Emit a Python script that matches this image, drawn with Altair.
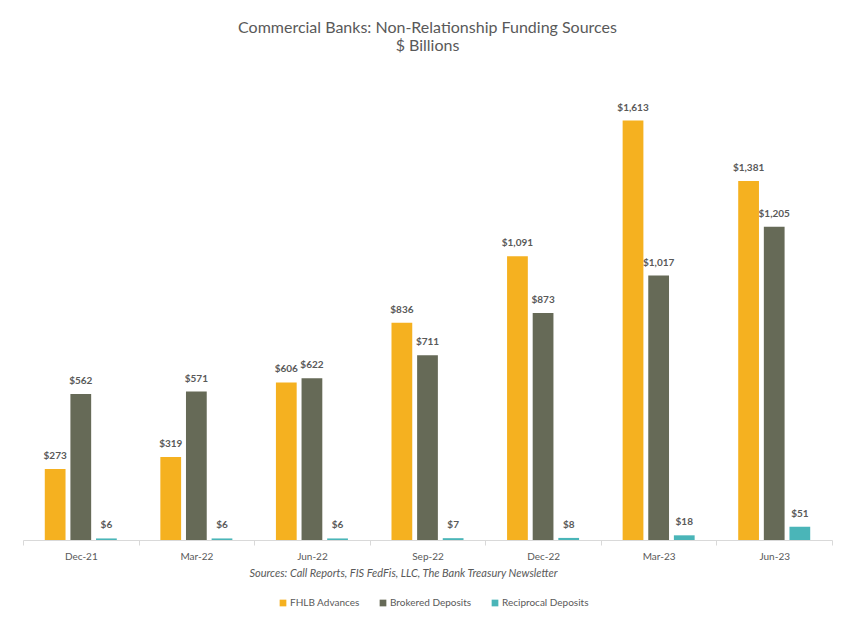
import altair as alt
import pandas as pd

periods = ["Dec-21", "Mar-22", "Jun-22", "Sep-22", "Dec-22", "Mar-23", "Jun-23"]
series = ["FHLB Advances", "Brokered Deposits", "Reciprocal Deposits"]
fhlb = [273, 319, 606, 836, 1091, 1613, 1381]
brokered = [562, 571, 622, 711, 873, 1017, 1205]
reciprocal = [6, 6, 6, 7, 8, 18, 51]
colors = ["#F5B120", "#666A57", "#4AB5B8"]

rows = []
for i, p in enumerate(periods):
    for s, vals in zip(series, [fhlb, brokered, reciprocal]):
        rows.append({"period": p, "series": s, "value": vals[i]})
df = pd.DataFrame(rows)

FONT = "Lato"

x = alt.X(
    "period:N",
    sort=periods,
    scale=alt.Scale(paddingInner=0, paddingOuter=0),
    axis=alt.Axis(
        title="Sources: Call Reports, FIS FedFis, LLC, The Bank Treasury Newsletter",
        titleFontStyle="italic",
        titleFontWeight="normal",
        titleFont=FONT,
        titleFontSize=11,
        titleColor="#595959",
        titlePadding=6,
        titleX=380,
        labelAngle=0,
        labelFont=FONT,
        labelFontSize=10,
        labelColor="#595959",
        labelPadding=6,
        tickBand="extent",
        tickColor="#d9d9d9",
        tickSize=5,
        domainColor="#d9d9d9",
    ),
)
xo = alt.XOffset(
    "series:N",
    sort=series,
    scale=alt.Scale(paddingInner=0.19, paddingOuter=0.85),
)
y = alt.Y("value:Q", scale=alt.Scale(domain=[0, 1800]), axis=None)

base = alt.Chart(df).encode(x=x, xOffset=xo, y=y)

bars = base.mark_bar().encode(
    color=alt.Color(
        "series:N",
        sort=series,
        scale=alt.Scale(domain=series, range=colors),
        legend=alt.Legend(
            title=None,
            orient="none",
            legendX=255,
            legendY=526,
            direction="horizontal",
            symbolType="square",
            symbolSize=45,
            symbolStrokeWidth=0,
            labelFont=FONT,
            labelFontSize=10,
            labelColor="#595959",
            columnPadding=18,
            labelOffset=2,
        ),
    )
)

labels = base.mark_text(
    dy=-8, baseline="bottom", font=FONT, fontSize=10, fontWeight="bold", color="#595959"
).transform_calculate(
    label="'$' + format(datum.value, ',')"
).encode(text="label:N")

chart = (
    alt.layer(bars, labels)
    .properties(
        width=809,
        height=468,
        padding={"left": 23, "top": 72, "right": 17, "bottom": 78},
        autosize=alt.AutoSizeParams(type="none"),
        title=alt.TitleParams(
            text="Commercial Banks: Non-Relationship Funding Sources",
            subtitle="$ Billions",
            anchor="middle",
            font=FONT,
            fontSize=16,
            fontWeight="normal",
            color="#595959",
            subtitleFont=FONT,
            subtitleFontSize=16,
            subtitleColor="#595959",
            subtitlePadding=2,
            offset=18,
        ),
        background="white",
    )
    .configure_view(stroke=None)
)

chart.save("out.html", embed_options={"renderer": "svg", "actions": False})
